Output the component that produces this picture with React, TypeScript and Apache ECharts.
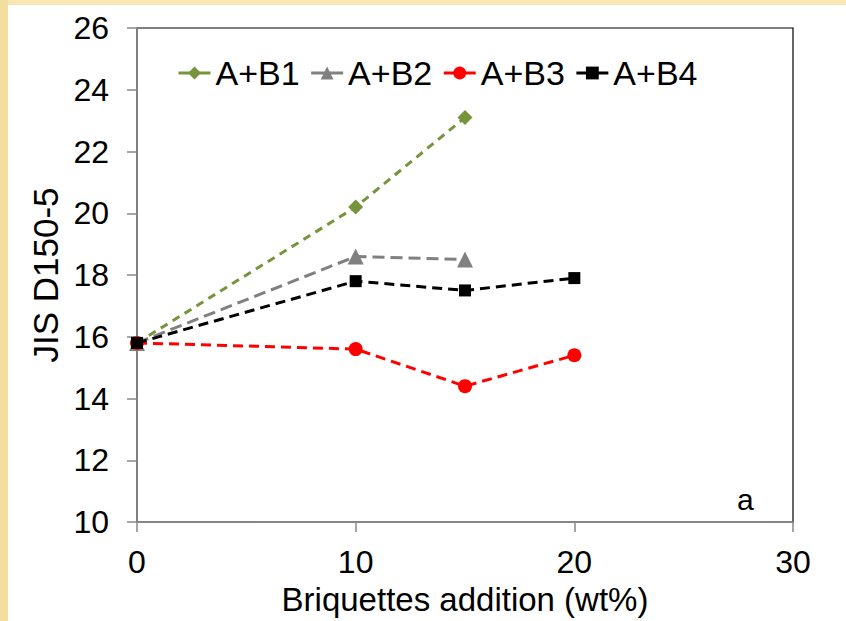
import React, { useEffect, useRef } from "react";
import * as echarts from "echarts";

const seriesNames = ["A+B1", "A+B2", "A+B3", "A+B4"];
const b1X = [0, 10, 15];
const b1Y = [15.8, 20.2, 23.1];
const b2X = [0, 10, 15];
const b2Y = [15.8, 18.6, 18.5];
const b3X = [0, 10, 15, 20];
const b3Y = [15.8, 15.6, 14.4, 15.4];
const b4X = [0, 10, 15, 20];
const b4Y = [15.8, 17.8, 17.5, 17.9];
const xTitle = "Briquettes addition (wt%)";
const yTitle = "JIS D150-5";
const panelLabel = "a";

const FONT = "'Liberation Sans', Arial, sans-serif";

function pairs(xs: number[], ys: number[]) {
  return xs.map((x, i) => [x, ys[i]]);
}

export default function App() {
  const ref = useRef<HTMLDivElement>(null);
  useEffect(() => {
    if (!ref.current) return;
    const chart = echarts.init(ref.current, undefined, { renderer: "svg" });
    const mk = (
      name: string,
      data: number[][],
      color: string,
      symbol: string,
      size: number,
      dash: number[],
      z: number
    ) => ({
      name,
      type: "line",
      data,
      symbol,
      symbolSize: size,
      z,
      itemStyle: { color },
      lineStyle: { color, width: 3, type: dash },
    });
    chart.setOption({
      animation: false,
      backgroundColor: "#ffffff",
      textStyle: { fontFamily: FONT },
      graphic: [
        { type: "rect", shape: { x: 0, y: 0, width: 846, height: 5 }, style: { fill: "#F9E7B3" }, z: -10 },
        { type: "rect", shape: { x: 0, y: 0, width: 8, height: 621 }, style: { fill: "#F4DE9F" }, z: -10 },
        {
          type: "text",
          left: 737,
          top: 484,
          style: { text: panelLabel, font: `30px ${FONT}`, fill: "#000" },
        },
      ],
      grid: {
        left: 137,
        right: 53,
        top: 28,
        bottom: 99,
        show: true,
        borderColor: "#000",
        borderWidth: 1.2,
      },
      legend: {
        data: seriesNames,
        left: 172,
        top: 51,
        itemWidth: 32,
        itemHeight: 16,
        itemGap: 10,
        lineStyle: { type: "solid", width: 3 },
        textStyle: { fontSize: 34, fontFamily: FONT, color: "#000", lineHeight: 34 },
      },
      xAxis: {
        type: "value",
        min: 0,
        max: 30,
        interval: 10,
        name: xTitle,
        nameLocation: "middle",
        nameGap: 60,
        nameTextStyle: { fontSize: 33, fontFamily: FONT, color: "#000" },
        axisLine: { show: true, lineStyle: { color: "#888", width: 1.5 } },
        axisTick: { show: true, length: 10, lineStyle: { color: "#888", width: 1.5 } },
        axisLabel: { fontSize: 32, fontFamily: FONT, color: "#000", margin: 24 },
        splitLine: { show: false },
      },
      yAxis: {
        type: "value",
        min: 10,
        max: 26,
        interval: 2,
        name: yTitle,
        nameLocation: "middle",
        nameGap: 72,
        nameTextStyle: { fontSize: 35, fontFamily: FONT, color: "#000" },
        axisLine: { show: true, lineStyle: { color: "#888", width: 1.5 } },
        axisTick: { show: true, length: 10, lineStyle: { color: "#888", width: 1.5 } },
        axisLabel: { fontSize: 32, fontFamily: FONT, color: "#000", margin: 28 },
        splitLine: { show: false },
      },
      series: [
        mk(seriesNames[0], pairs(b1X, b1Y), "#77933C", "diamond", 15, [8, 6], 2),
        mk(seriesNames[1], pairs(b2X, b2Y), "#808080", "triangle", 16, [12, 6], 3),
        mk(seriesNames[2], pairs(b3X, b3Y), "#FF0000", "circle", 14, [10, 6], 4),
        mk(seriesNames[3], pairs(b4X, b4Y), "#000000", "rect", 12, [10, 6], 5),
      ],
    });
    return () => chart.dispose();
  }, []);
  return (
    <div
      ref={ref}
      style={{ position: "fixed", left: 0, top: 0, width: 846, height: 621 }}
    />
  );
}
